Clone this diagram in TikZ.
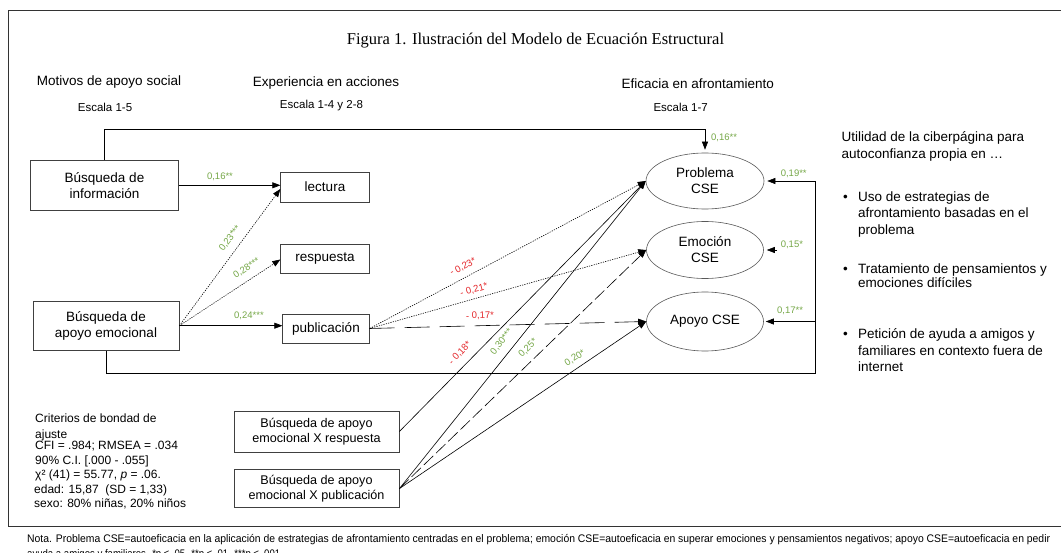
\documentclass[tikz,border=0pt]{standalone}
\usepackage{fontspec}
\setmainfont{Liberation Sans}
\newfontfamily\titlefont{Liberation Serif}
\usetikzlibrary{arrows.meta,shapes.geometric}
\definecolor{lgreen}{RGB}{118,168,72}
\definecolor{lred}{RGB}{228,38,42}
\newcommand{\fbx}{\fontsize{13.5}{16}\selectfont}
\newcommand{\fxb}{\fontsize{12.6}{15}\selectfont}
\newcommand{\flb}{\fontsize{9.5}{10}\selectfont}
\newcommand{\fsc}{\fontsize{11.5}{13}\selectfont}
\newcommand{\fcr}{\fontsize{12}{14}\selectfont}
\newcommand{\fnt}{\fontsize{11}{13}\selectfont}
\begin{document}
\begin{tikzpicture}[x=1pt,y=-1pt,
  box/.style={draw=black!75, line width=0.8pt, inner sep=0pt, align=center, font=\fbx},
  xbox/.style={draw=black!75, line width=0.8pt, inner sep=0pt, align=center, font=\fxb},
  ell/.style={draw=black!65, line width=0.6pt, ellipse, inner sep=0pt, align=center, font=\fbx},
  conn/.style={line width=0.6pt, black},
  arr/.style={line width=0.6pt, black, -{Triangle[length=8pt,width=6pt]}},
  dotl/.style={dash pattern=on 1.2pt off 1.2pt},
  longdash/.style={dash pattern=on 25pt off 10pt},
  meddash/.style={dash pattern=on 13pt off 4pt},
  glab/.style={text=lgreen, font=\flb, inner sep=0pt},
  rlab/.style={text=lred, font=\flb, inner sep=0pt},
  hdr/.style={font=\fbx, inner sep=0pt},
  scl/.style={font=\fsc, inner sep=0pt},
  crit/.style={font=\fcr, inner sep=0pt, anchor=base west},
  rtx/.style={font=\fbx, inner sep=0pt, anchor=base west}
]
\useasboundingbox (0,0) rectangle (1061,553);
\fill[white] (0,0) rectangle (1061,553);
% frame
\draw[line width=0.9pt, black!80] (1066,10) -- (8,10) -- (8,526) -- (1066,526);
% title
\node[font=\titlefont\fontsize{16.5}{19}\selectfont, inner sep=0pt] (title) at (535.5,41) {Figura 1. Ilustración del Modelo de Ecuación Estructural};
% headers
\node[hdr] (h1) at (109,82) {Motivos de apoyo social};
\node[scl] (s1) at (105,107.5) {Escala 1-5};
\node[hdr] (h2) at (326,83) {Experiencia en acciones};
\node[scl] (s2) at (321.5,106) {Escala 1-4 y 2-8};
\node[hdr] (h3) at (697.7,84) {Eficacia en afrontamiento};
\node[scl] (s3) at (680.7,107) {Escala 1-7};
% boxes
\node[box, minimum width=148pt, minimum height=49.5pt] (info) at (104.5,185.3) {Búsqueda de\\información};
\node[box, minimum width=88.5pt, minimum height=30pt] (lectura) at (325,187) {lectura};
\node[box, minimum width=88.5pt, minimum height=29pt] (respuesta) at (325,258.5) {respuesta};
\node[box, minimum width=146pt, minimum height=49.5pt] (emo) at (106,325.7) {Búsqueda de\\apoyo emocional};
\node[box, minimum width=86.5pt, minimum height=29pt] (publicacion) at (326,328.5) {publicación};
\node[xbox, minimum width=165pt, minimum height=41pt] (xresp) at (316.5,431.5) {Búsqueda de apoyo\\emocional X respuesta};
\node[xbox, minimum width=165pt, minimum height=38pt] (xpub) at (316.5,488.6) {Búsqueda de apoyo\\emocional X publicación};
% ellipses
\node[ell, minimum width=118pt, minimum height=56pt] (prob) at (705,181) {Problema\\CSE};
\node[ell, minimum width=117pt, minimum height=57pt] (emoc) at (705,250) {Emoción\\CSE};
\node[ell, minimum width=117pt, minimum height=59pt] (apoyo) at (705,321.5) {Apoyo CSE};
% helper coordinates
\coordinate (topy) at (0,129.5);
\coordinate (boty) at (0,373);
\coordinate (rx) at (815.5,0);
\coordinate (emstub) at (777,250);
% top connector
\draw[arr, shorten >=3pt] (info.north) -- (info.north |- topy) -- (prob.north |- topy) -- (prob.north);
\node[glab, anchor=west] (l016b) at (711,138) {0,16**};
% bottom/right connector
\draw[conn] (emo.south) -- (emo.south |- boty) -- (rx |- boty) -- (rx |- prob.east);
\draw[arr, shorten >=3pt] (rx |- prob.east) -- (prob.east);
\draw[arr, shorten >=2pt] (rx |- apoyo.east) -- (apoyo.east);
\draw[arr, shorten >=3pt] (emstub) -- (emoc.east);
\node[glab, anchor=west] (l019) at (780.6,174) {0,19**};
\node[glab, anchor=west] (l015) at (780.6,244.5) {0,15*};
\node[glab, anchor=west] (l017) at (777,310.6) {0,17**};
% left arrows
\draw[arr] (info.east) -- (info.east -| lectura.west);
\draw[arr, dotl] (emo.east) -- ([yshift=-2pt]lectura.west);
\draw[arr, dotl] (emo.east) -- ([yshift=-1pt]respuesta.west);
\draw[arr] (emo.east) -- (emo.east -| publicacion.west);
\node[glab] (l016a) at (220,177) {0,16**};
\node[glab, rotate=53] (l023a) at (230,238.3) {0,23***};
\node[glab, rotate=34] (l028) at (246.7,268.3) {0,28***};
\node[glab] (l024) at (249,315.6) {0,24***};
% from publicacion
\draw[arr, dotl] (publicacion.east) -- (prob.west);
\draw[arr, dotl] (publicacion.east) -- (emoc.west);
\draw[arr, longdash] (publicacion.east) -- (apoyo.west);
\node[rlab, rotate=28] (l023b) at (463,267) {- 0,23*};
\node[rlab, rotate=15] (l021) at (474,290) {- 0,21*};
\node[rlab, rotate=2] (l017b) at (480,316) {- 0,17*};
% from interaction boxes
\draw[arr] (xresp.east) -- (prob.west);
\draw[arr] (xpub.east) -- (prob.west);
\draw[arr, meddash] (xpub.east) -- (emoc.west);
\draw[arr] (xpub.east) -- (apoyo.west);
\node[rlab, rotate=47] (l018) at (460,353) {- 0,18*};
\node[glab, rotate=52] (l030) at (501.7,341.7) {0,30***};
\node[glab, rotate=45] (l025) at (528,348) {0,25*};
\node[glab, rotate=33] (l020) at (575,358) {0,20*};
% criteria
\node[crit] (c1) at (35,423) {Criterios de bondad de};
\node[crit] (c2) at (35,438.3) {ajuste};
\node[crit] (c3) at (35,449.3) {CFI = .984; RMSEA = .034};
\node[crit] (c4) at (35,464.3) {90\% C.I. [.000 - .055]};
\node[crit] (c5) at (35,478.8) {χ² (41) = 55.77, \textit{p} = .06.};
\node[crit] (c6) at (34,493.3) {edad: 15,87 \ (SD = 1,33)};
\node[crit] (c7) at (34,507.3) {sexo: 80\% niñas, 20\% niños};
% right text
\node[rtx] (r1) at (841.5,142) {Utilidad de la ciberpágina para};
\node[rtx] (r2) at (841.5,159) {autoconfianza propia en \dots};
\node[rtx] (b1) at (843,201.4) {•};
\node[rtx] (r3) at (858,201.4) {Uso de estrategias de};
\node[rtx] (r4) at (858,218) {afrontamiento basadas en el};
\node[rtx] (r5) at (858,234.5) {problema};
\node[rtx] (b2) at (843,273.5) {•};
\node[rtx] (r6) at (858,273.5) {Tratamiento de pensamientos y};
\node[rtx] (r7) at (858,288) {emociones difíciles};
\node[rtx] (b3) at (843,338.5) {•};
\node[rtx] (r8) at (858,338.5) {Petición de ayuda a amigos y};
\node[rtx] (r9) at (858,355.5) {familiares en contexto fuera de};
\node[rtx] (r10) at (858,372) {internet};
% note
\node[font=\fnt, inner sep=0pt, anchor=base west] (n1) at (27,542) {\resizebox{1023pt}{\height}{Nota. Problema CSE=autoeficacia en la aplicación de estrategias de afrontamiento centradas en el problema; emoción CSE=autoeficacia en superar emociones y pensamientos negativos; apoyo CSE=autoeficacia en pedir}};
\node[font=\fnt, inner sep=0pt, anchor=base west] (n2) at (27,557) {\resizebox{253pt}{\height}{ayuda a amigos y familiares. *p ≤ .05. **p ≤ .01. ***p ≤ .001}};
\end{tikzpicture}
\end{document}
